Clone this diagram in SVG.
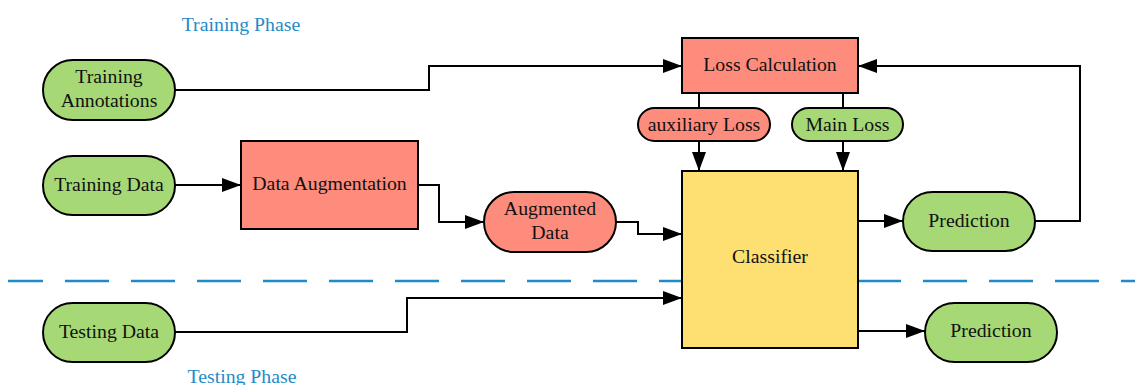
<svg xmlns="http://www.w3.org/2000/svg" width="1135" height="385" viewBox="0 0 1135 385">
  <style>
    text { font-family: "Liberation Serif", "Times New Roman", serif; font-size: 19.8px; fill: #111; text-anchor: middle; dominant-baseline: central; }
    .phase { fill: #1f8bc8; }
    .shape { stroke: #000; stroke-width: 2; }
    .green { fill: #a6d976; }
    .salmon { fill: #fe8c7c; }
    .yellow { fill: #fedf71; }
    .wire { fill: none; stroke: #000; stroke-width: 2; }
    .arrow { marker-end: url(#head); }
  </style>
  <defs>
    <marker id="head" viewBox="0 0 19 14" refX="19" refY="7" markerWidth="19" markerHeight="14" markerUnits="userSpaceOnUse" orient="auto">
      <path d="M0,0 L19,7 L0,14 Z" fill="#000"/>
    </marker>
  </defs>

  <rect width="1135" height="385" fill="#fff"/>

  <!-- phase labels and separator -->
  <text class="phase" x="241" y="24">Training Phase</text>
  <text class="phase" x="242" y="376">Testing Phase</text>
  <line x1="8" y1="281" x2="1135" y2="281" stroke="#1f8bc8" stroke-width="2.5" stroke-dasharray="44 22" stroke-dashoffset="9"/>

  <!-- connectors -->
  <g id="connectors">
    <polyline class="wire arrow" points="175,90 429,90 429,66 682,66"/>
    <polyline class="wire arrow" points="175,185 241,185"/>
    <polyline class="wire arrow" points="418,185 439,185 439,222 484,222"/>
    <polyline class="wire arrow" points="616,222 638,222 638,234 682,234"/>
    <line class="wire" x1="699" y1="93" x2="699" y2="108"/>
    <polyline class="wire arrow" points="699,141 699,171"/>
    <line class="wire" x1="843" y1="93" x2="843" y2="108"/>
    <polyline class="wire arrow" points="843,141 843,171"/>
    <polyline class="wire arrow" points="858,221 903,221"/>
    <polyline class="wire arrow" points="1035,221 1080,221 1080,66 858,66"/>
    <polyline class="wire arrow" points="175,332 407,332 407,298 682,298"/>
    <polyline class="wire arrow" points="858,331 925,331"/>
  </g>

  <!-- nodes -->
  <g id="training-annotations">
    <rect class="shape green" x="43" y="60" width="132" height="60" rx="30"/>
    <text x="109" y="76">Training</text>
    <text x="109" y="100">Annotations</text>
  </g>
  <g id="training-data">
    <rect class="shape green" x="43" y="156" width="132" height="59" rx="29.5"/>
    <text x="109" y="184">Training Data</text>
  </g>
  <g id="data-augmentation">
    <rect class="shape salmon" x="241" y="141" width="177" height="88"/>
    <text x="329.5" y="183">Data Augmentation</text>
  </g>
  <g id="augmented-data">
    <rect class="shape salmon" x="484" y="192" width="132" height="60" rx="30"/>
    <text x="550" y="208">Augmented</text>
    <text x="550" y="232">Data</text>
  </g>
  <g id="loss-calculation">
    <rect class="shape salmon" x="682" y="38" width="176" height="55"/>
    <text x="770" y="64">Loss Calculation</text>
  </g>
  <g id="auxiliary-loss">
    <rect class="shape salmon" x="638" y="108" width="132" height="33" rx="16.5"/>
    <text x="704" y="124">auxiliary Loss</text>
  </g>
  <g id="main-loss">
    <rect class="shape green" x="792" y="108" width="111" height="33" rx="16.5"/>
    <text x="847.5" y="124">Main Loss</text>
  </g>
  <g id="classifier">
    <rect class="shape yellow" x="682" y="171" width="176" height="177"/>
    <text x="770" y="256">Classifier</text>
  </g>
  <g id="prediction-train">
    <rect class="shape green" x="903" y="192" width="132" height="59" rx="29.5"/>
    <text x="969" y="220">Prediction</text>
  </g>
  <g id="testing-data">
    <rect class="shape green" x="43" y="303" width="132" height="59" rx="29.5"/>
    <text x="109" y="331">Testing Data</text>
  </g>
  <g id="prediction-test">
    <rect class="shape green" x="925" y="303" width="132" height="59" rx="29.5"/>
    <text x="991" y="330">Prediction</text>
  </g>
</svg>
